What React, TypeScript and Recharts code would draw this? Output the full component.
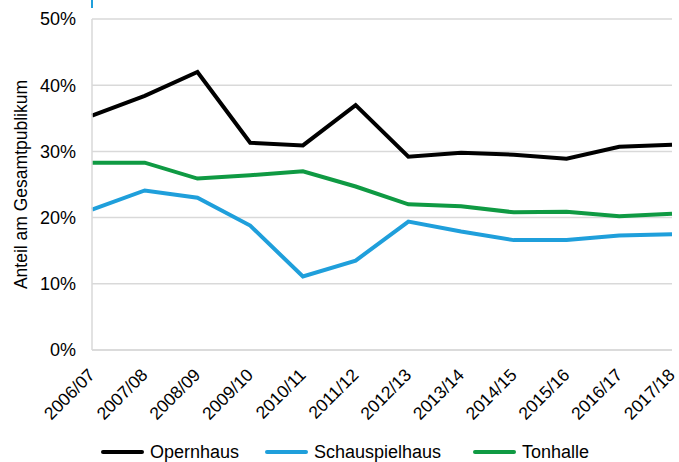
import React from "react";
import { LineChart, Line, XAxis, YAxis, CartesianGrid, Legend } from "recharts";

const seasons = [
  "2006/07", "2007/08", "2008/09", "2009/10", "2010/11", "2011/12",
  "2012/13", "2013/14", "2014/15", "2015/16", "2016/17", "2017/18",
];
const opernhaus = [35.4, 38.4, 42.0, 31.3, 30.9, 37.0, 29.2, 29.8, 29.5, 28.9, 30.7, 31.0];
const schauspielhaus = [21.2, 24.1, 23.0, 18.8, 11.1, 13.5, 19.4, 17.9, 16.6, 16.6, 17.3, 17.5];
const tonhalle = [28.3, 28.3, 25.9, 26.4, 27.0, 24.7, 22.0, 21.7, 20.8, 20.9, 20.2, 20.6];
const yTicks = [0, 10, 20, 30, 40, 50];

const series = [
  { key: "Opernhaus", color: "#000000" },
  { key: "Schauspielhaus", color: "#1f9fdb" },
  { key: "Tonhalle", color: "#0f9a43" },
];

const data = seasons.map((s, i) => ({
  season: s,
  Opernhaus: opernhaus[i],
  Schauspielhaus: schauspielhaus[i],
  Tonhalle: tonhalle[i],
}));

const font = "'Liberation Sans', Arial, sans-serif";

const SeasonTick = (props: any) => {
  const { x, y, payload } = props;
  return (
    <g transform={`translate(${x + 4},${y + 18})`}>
      <text transform="rotate(-45)" textAnchor="end" fontSize={17.5} fontFamily={font} fill="#000">
        {payload.value}
      </text>
    </g>
  );
};

const AxisTitle = (props: any) => {
  const vb = props.viewBox || {};
  const cy = (vb.y ?? 19) + (vb.height ?? 331) / 2;
  return (
    <text
      x={21}
      y={cy}
      transform={`rotate(-90, 21, ${cy})`}
      textAnchor="middle"
      dominantBaseline="central"
      fontSize={17.5}
      fontFamily={font}
      fill="#000"
    >
      Anteil am Gesamtpublikum
    </text>
  );
};

const LegendBox = () => {
  const pos = [101, 265, 473];
  return (
    <div style={{ position: "relative", height: 30, fontFamily: font, fontSize: 18 }}>
      {series.map((s, i) => (
        <div
          key={s.key}
          style={{ position: "absolute", left: pos[i], top: 9, display: "flex", alignItems: "center", lineHeight: "22px" }}
        >
          <div style={{ width: 43, height: 4.5, borderRadius: 2.5, background: s.color, marginRight: 6 }} />
          <span>{s.key}</span>
        </div>
      ))}
    </div>
  );
};

export default function App() {
  return (
    <div style={{ position: "absolute", left: 0, top: 0, width: 679, height: 462, background: "#fff" }}>
      <div style={{ position: "absolute", left: 91, top: 0, width: 2, height: 8, background: "#1f9fdb" }} />
      <LineChart
        width={679}
        height={462}
        data={data}
        margin={{ top: 19, right: 7, left: 0, bottom: 0 }}
      >
        <CartesianGrid vertical={false} stroke="#d9d9d9" strokeWidth={1.5} />
        <XAxis
          dataKey="season"
          interval={0}
          height={82}
          tick={<SeasonTick />}
          tickLine={false}
          axisLine={{ stroke: "#d9d9d9", strokeWidth: 1.5 }}
        />
        <YAxis
          domain={[0, 50]}
          ticks={yTicks}
          width={92}
          tickFormatter={(v: number) => `${v}%`}
          tickLine={false}
          tickSize={0}
          tickMargin={16}
          axisLine={{ stroke: "#d9d9d9", strokeWidth: 1.5 }}
          tick={{ fill: "#000", fontSize: 18, fontFamily: font }}
          label={<AxisTitle />}
        />
        <Legend verticalAlign="bottom" height={30} content={<LegendBox />} />
        {series.map((s) => (
          <Line
            key={s.key}
            dataKey={s.key}
            stroke={s.color}
            strokeWidth={4}
            dot={false}
            type="linear"
            isAnimationActive={false}
          />
        ))}
      </LineChart>
    </div>
  );
}
